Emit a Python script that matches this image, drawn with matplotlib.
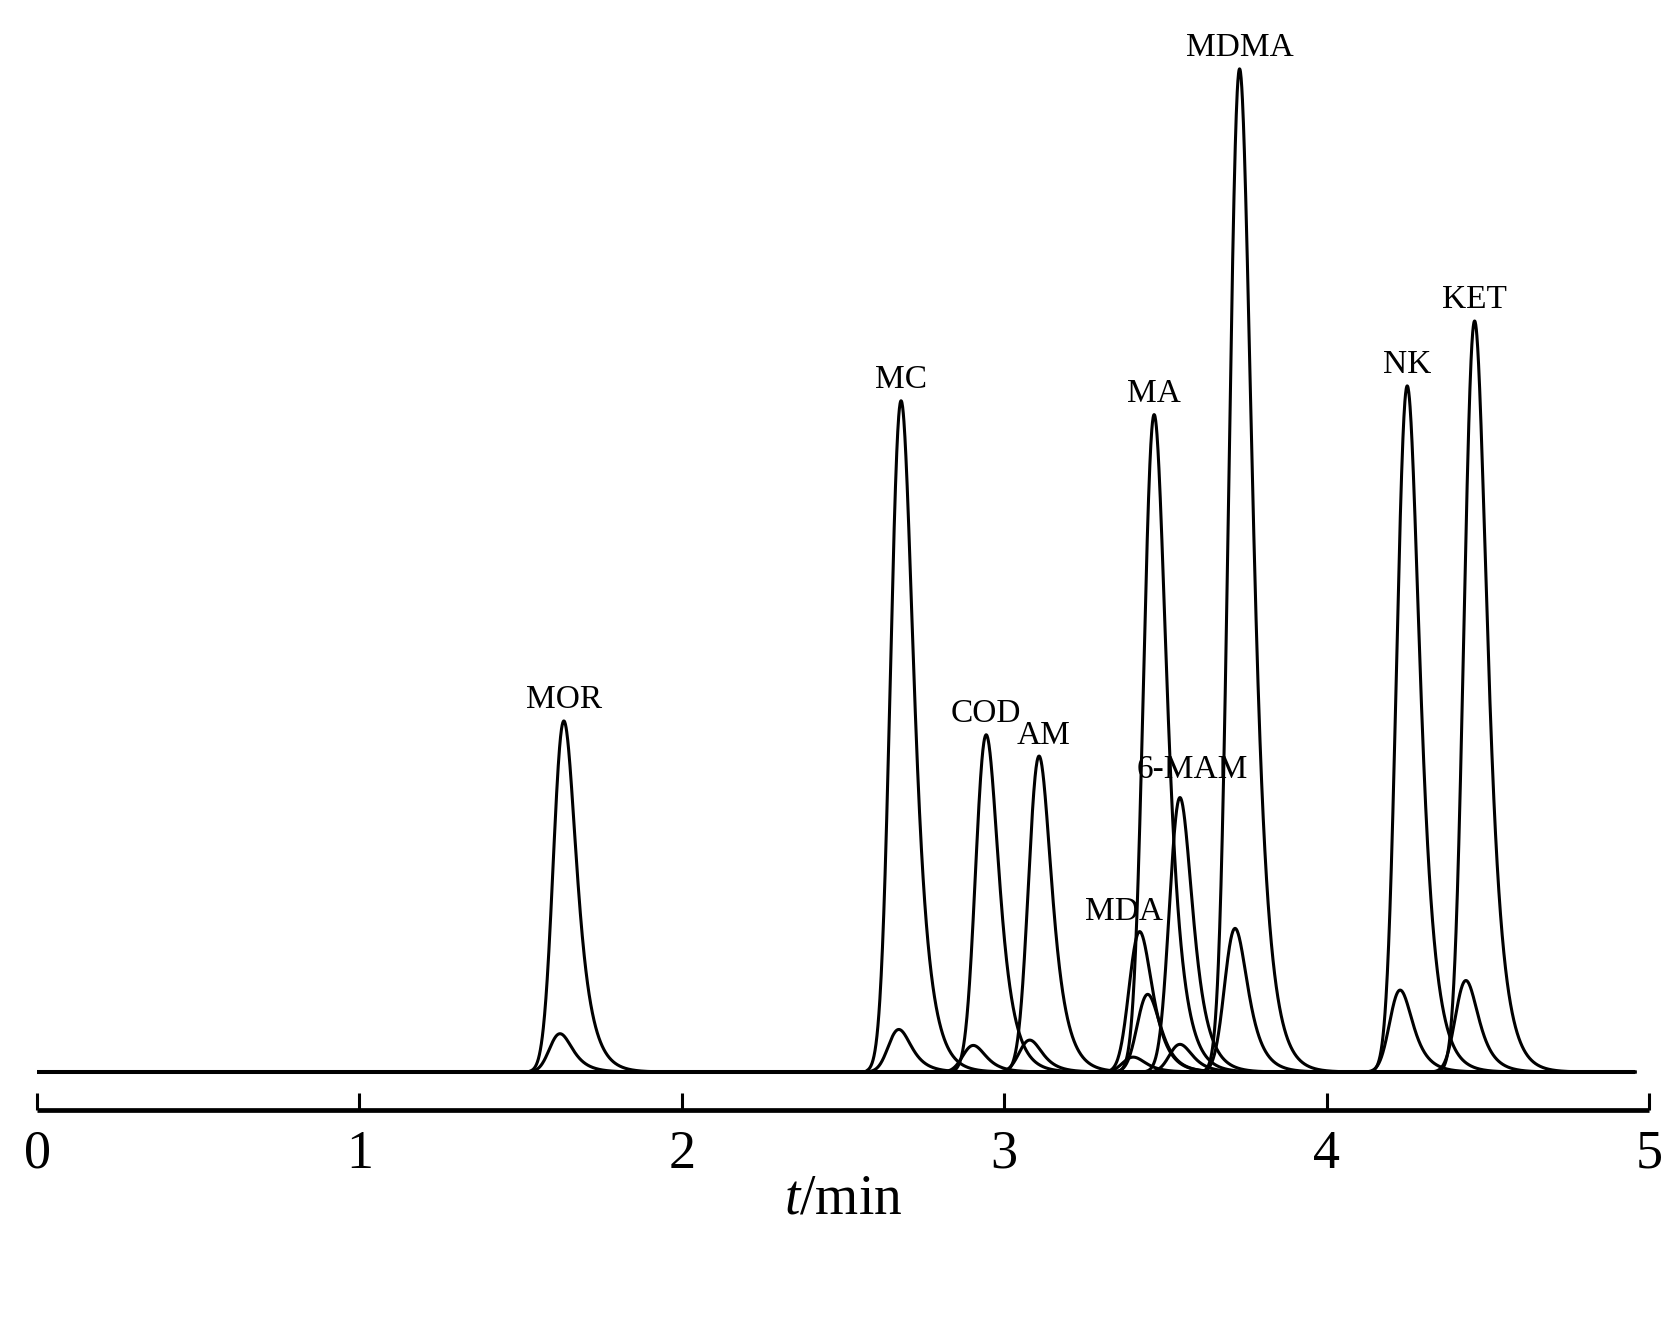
import math

import numpy as np
import matplotlib.pyplot as plt


# =========================
# Data
# =========================

compounds = ["MOR", "MC", "COD", "AM", "MDA", "MA", "6-MAM", "MDMA", "NK", "KET"]

# quantifier trace: retention time (min) and peak height
rt_main = [1.634, 2.680, 2.944, 3.108, 3.420, 3.465, 3.545, 3.730, 4.250, 4.459]
h_main = [330, 631, 317, 297, 132, 618, 258, 943, 645, 706]

# qualifier trace (small peaks)
rt_qual = [1.622, 2.673, 2.904, 3.079, 3.400, 3.445, 3.545, 3.716, 4.228, 4.432]
h_qual = [36, 40, 25, 30, 14, 73, 26, 135, 77, 86]

x_ticks = [0, 1, 2, 3, 4, 5]
run_end = 4.957


# =========================
# Peak shape (exponentially modified gaussian)
# =========================

SIGMA = 0.027
TAU = 0.037


def emg(t, mu, s, tau):
    z = (s / tau - (t - mu) / s) / math.sqrt(2)
    erfc = np.array([math.erfc(v) for v in z])
    return np.exp(0.5 * (s / tau) ** 2 - (t - mu) / tau) * erfc


def peak(t, rt, h, s=SIGMA, tau=TAU):
    grid = np.linspace(-0.3, 0.6, 3001)
    g = emg(grid, 0.0, s, tau)
    shift = grid[np.argmax(g)]
    return h * emg(t, rt - shift, s, tau) / g.max()


# =========================
# Figure
# =========================

plt.rcParams["font.family"] = ["Liberation Serif", "DejaVu Serif"]
plt.rcParams["mathtext.fontset"] = "custom"
plt.rcParams["mathtext.it"] = "Liberation Serif:italic"
plt.rcParams["mathtext.rm"] = "Liberation Serif"

fig = plt.figure(figsize=(16.68, 13.29), dpi=100)
ax = fig.add_axes([0.0222, 0.1648, 0.9664, 0.8202])

# baseline
ax.plot([0, run_end], [0, 0], color="black", lw=2.9, solid_capstyle="butt", zorder=3)

for rts, hs in [(rt_qual, h_qual), (rt_main, h_main)]:
    for rt, h in zip(rts, hs):
        t = np.linspace(rt - 0.105, min(rt + 0.6, run_end), 700)
        ax.plot(t, peak(t, rt, h), color="black", lw=2.2, zorder=2)

# peak labels
nudge = {"MDA": (-11, 8), "6-MAM": (9, 14), "AM": (3, 9)}
for name, rt, h in zip(compounds, rt_main, h_main):
    dx, dy = nudge.get(name, (0, 9))
    ax.annotate(
        name,
        xy=(rt, h),
        xytext=(dx, dy),
        textcoords="offset points",
        ha="center",
        va="baseline",
        fontsize=24
    )

ax.set_xlim(0, 5)
ax.set_ylim(-35.7, 989)
ax.set_yticks([])
ax.set_xticks(x_ticks)
ax.set_xticklabels([str(v) for v in x_ticks])

for side in ["left", "right", "top"]:
    ax.spines[side].set_visible(False)
ax.spines["bottom"].set_linewidth(3.4)
ax.spines["bottom"].set_capstyle("butt")

ax.tick_params(axis="x", direction="in", length=12, width=2.2, pad=14, labelsize=39)

fig.text(843 / 1668, 1 - 1214 / 1329, "$t$/min", ha="center", va="baseline", fontsize=40)

plt.savefig("out.png", dpi=100)
